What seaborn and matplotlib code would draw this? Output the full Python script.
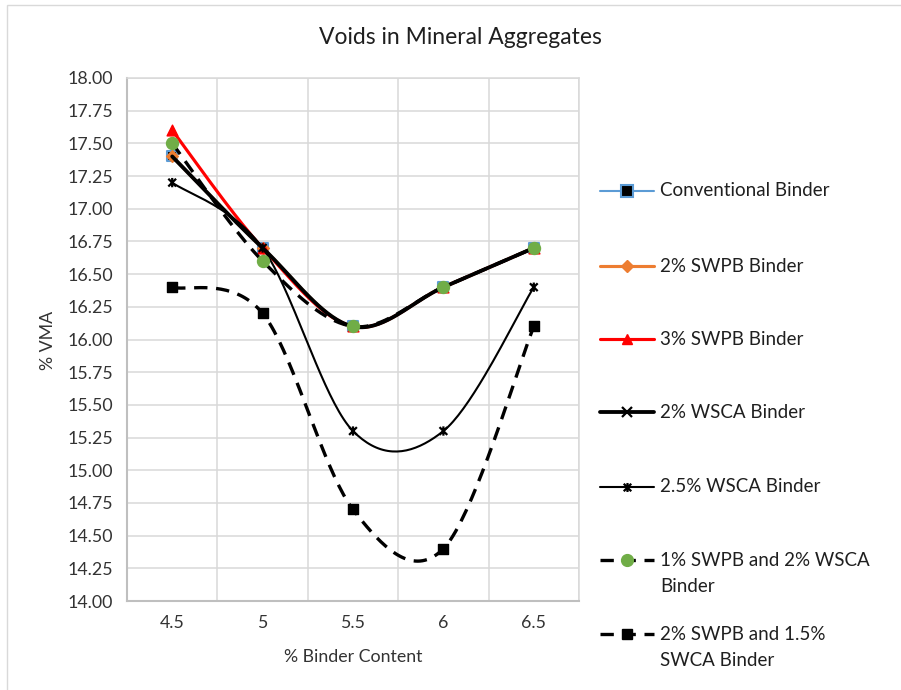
import numpy as np
import pandas as pd
import matplotlib
matplotlib.use("Agg")
import matplotlib.pyplot as plt
from matplotlib.lines import Line2D
from matplotlib.path import Path
from matplotlib.patches import Rectangle
from matplotlib.ticker import FormatStrFormatter
import seaborn as sns

# ---- data -------------------------------------------------------------
binder_content = [4.5, 5.0, 5.5, 6.0, 6.5]
x_tick_labels = ["4.5", "5", "5.5", "6", "6.5"]
y_ticks = [14.00, 14.25, 14.50, 14.75, 15.00, 15.25, 15.50, 15.75, 16.00,
           16.25, 16.50, 16.75, 17.00, 17.25, 17.50, 17.75, 18.00]

conventional = [17.4, 16.7, 16.1, 16.4, 16.7]
swpb_2 = [17.4, 16.7, 16.1, 16.4, 16.7]
swpb_3 = [17.6, 16.7, 16.1, 16.4, 16.7]
wsca_2 = [17.4, 16.7, 16.1, 16.4, 16.7]
wsca_25 = [17.2, 16.7, 15.3, 15.3, 16.4]
swpb1_wsca2 = [17.5, 16.6, 16.1, 16.4, 16.7]
swpb2_swca15 = [16.4, 16.2, 14.7, 14.4, 16.1]

series_names = [
    "Conventional Binder",
    "2% SWPB Binder",
    "3% SWPB Binder",
    "2% WSCA Binder",
    "2.5% WSCA Binder",
    "1% SWPB and 2% WSCA\nBinder",
    "2% SWPB and 1.5%\nSWCA Binder",
]
series_values = [conventional, swpb_2, swpb_3, wsca_2, wsca_25,
                 swpb1_wsca2, swpb2_swca15]

# ---- styling ----------------------------------------------------------
W, H = 901, 690
DASH = (0, (4.0, 2.6))
TICK_FS = 12.8
LEG_FS = 13.5

star = Path([(-1, -1), (1, 1), (-1, 1), (1, -1), (0, -1.2), (0, 1.2)],
            [Path.MOVETO, Path.LINETO, Path.MOVETO, Path.LINETO,
             Path.MOVETO, Path.LINETO])

styles = [
    dict(color="#5B9BD5", lw=1.5, ls="-", marker="s", s=62, fc="#000000",
         ec="#5B9BD5", mew=1.5, lms=8),
    dict(color="#ED7D31", lw=2.25, ls="-", marker="D", s=36, fc="#ED7D31",
         ec="#ED7D31", mew=1.0, lms=6.5),
    dict(color="#FF0000", lw=2.25, ls="-", marker="^", s=60, fc="#FF0000",
         ec="#FF0000", mew=1.0, lms=7.5),
    dict(color="#000000", lw=2.75, ls="-", marker="x", s=45, fc="none",
         ec="#000000", mew=1.6, lms=7),
    dict(color="#000000", lw=1.5, ls="-", marker=star, s=45, fc="none",
         ec="#000000", mew=1.6, lms=6.5),
    dict(color="#000000", lw=2.4, ls=DASH, marker="o", s=74, fc="#70AD47",
         ec="#70AD47", mew=1.0, lms=8.5),
    dict(color="#000000", lw=2.4, ls=DASH, marker="s", s=55, fc="#000000",
         ec="#000000", mew=1.0, lms=7.5),
]


def smooth(xs, ys, n=40):
    """Bezier smoothing through every point (spreadsheet-style smoothed line)."""
    p = np.column_stack([xs, ys]).astype(float)
    k = len(p)
    t = np.linspace(0, 1, n)[1:, None]
    out = [p[0]]
    for i in range(k - 1):
        p0 = p[max(i - 1, 0)]
        p1 = p[i]
        p2 = p[i + 1]
        p3 = p[min(i + 2, k - 1)]
        c1 = p1 + (p2 - p0) / 6.0
        c2 = p2 - (p3 - p1) / 6.0
        seg = ((1 - t) ** 3) * p1 + 3 * ((1 - t) ** 2) * t * c1 \
            + 3 * (1 - t) * (t ** 2) * c2 + (t ** 3) * p2
        out.extend(seg)
    return np.array(out)


sns.set_theme(style="white")
plt.rcParams["font.family"] = ["Lato", "DejaVu Sans"]

fig = plt.figure(figsize=(W / 100, H / 100), dpi=100)
ax = fig.add_axes([127 / W, 1 - 601 / H, (579 - 127) / W, (601 - 78) / H])

# ---- series -----------------------------------------------------------
for i, (name, vals, st) in enumerate(zip(series_names, series_values, styles)):
    curve = smooth(binder_content, vals)
    df = pd.DataFrame({"x": curve[:, 0], "y": curve[:, 1]})
    sns.lineplot(data=df, x="x", y="y", ax=ax, sort=False, estimator=None,
                 color=st["color"], linewidth=st["lw"], linestyle=st["ls"],
                 zorder=3 + 2 * i)
    pts = pd.DataFrame({"x": binder_content, "y": vals})
    sns.scatterplot(data=pts, x="x", y="y", ax=ax, marker=st["marker"],
                    s=st["s"], facecolor=st["fc"], edgecolor=st["ec"],
                    linewidth=st["mew"], zorder=4 + 2 * i, legend=False)

# ---- axes -------------------------------------------------------------
grid_c = "#d9d9d9"
ax.set_xlim(4.25, 6.75)
ax.set_ylim(14.0, 18.0)
ax.set_xticks(binder_content)
ax.set_xticklabels(x_tick_labels)
ax.set_xticks([4.25, 4.75, 5.25, 5.75, 6.25, 6.75], minor=True)
ax.set_yticks(y_ticks)
ax.yaxis.set_major_formatter(FormatStrFormatter("%.2f"))
ax.grid(False)
ax.grid(axis="y", which="major", color=grid_c, lw=1.1)
ax.grid(axis="x", which="minor", color=grid_c, lw=1.1)
ax.tick_params(axis="both", which="both", length=0, labelsize=TICK_FS,
               labelcolor="#333333")
ax.tick_params(axis="y", pad=10)
ax.tick_params(axis="x", pad=10)
ax.set_xlabel("")
ax.set_ylabel("")
for side in ["top", "right"]:
    ax.spines[side].set_visible(True)
    ax.spines[side].set_color(grid_c)
    ax.spines[side].set_linewidth(1.1)
for side in ["left", "bottom"]:
    ax.spines[side].set_color("#bfbfbf")
    ax.spines[side].set_linewidth(1.5)

# ---- titles -----------------------------------------------------------
fig.text(460 / W, 1 - 38 / H, "Voids in Mineral Aggregates", ha="center",
         va="center", fontsize=16.5, color="#1f1f1f")
fig.text(48 / W, 1 - 340 / H, "% VMA", ha="center", va="center",
         rotation=90, fontsize=TICK_FS, color="#333333")
fig.text(353 / W, 1 - 657 / H, "% Binder Content", ha="center", va="center",
         fontsize=TICK_FS, color="#333333")

# ---- legend -----------------------------------------------------------
legend_rows = [191, 266, 339, 412, 487, 560, 634]
for name, st, yrow in zip(series_names, styles, legend_rows):
    yf = 1 - yrow / H
    fig.add_artist(Line2D([600 / W, 654 / W], [yf, yf],
                          transform=fig.transFigure, color=st["color"],
                          lw=st["lw"], ls=st["ls"]))
    fig.add_artist(Line2D([627 / W], [yf], transform=fig.transFigure,
                          ls="none", marker=st["marker"],
                          markersize=st["lms"], markerfacecolor=st["fc"],
                          markeredgecolor=st["ec"], markeredgewidth=st["mew"]))
    for k, line in enumerate(name.split("\n")):
        fig.text(660 / W, 1 - (yrow + 26 * k) / H, line, ha="left",
                 va="center", fontsize=LEG_FS, color="#1f1f1f")

# chart outline
fig.add_artist(Rectangle((7 / W, -0.05), 1.2, 1.05 - 5 / H,
                         transform=fig.transFigure, fill=False,
                         edgecolor="#d9d9d9", lw=1.0))

fig.savefig("out.png", dpi=100)
